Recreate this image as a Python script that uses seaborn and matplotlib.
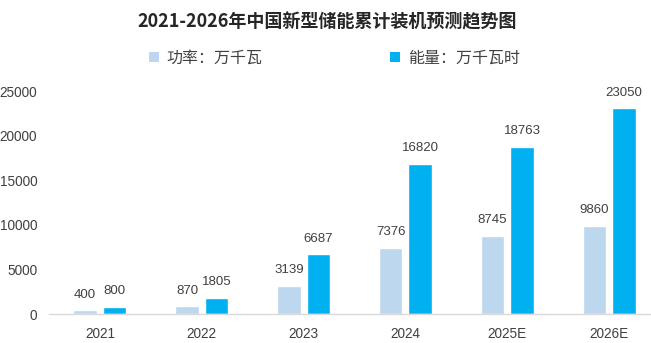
import matplotlib
matplotlib.use("Agg")
import matplotlib.pyplot as plt
from matplotlib.patches import Patch
import seaborn as sns
import pandas as pd

years = ["2021", "2022", "2023", "2024", "2025E", "2026E"]
power = [400, 870, 3139, 7376, 8745, 9860]          # 功率：万千瓦
energy = [800, 1805, 6687, 16820, 18763, 23050]     # 能量：万千瓦时
series_names = ["功率：万千瓦", "能量：万千瓦时"]
yticks = [0, 5000, 10000, 15000, 20000, 25000]
title = "2021-2026年中国新型储能累计装机预测趋势图"

colors = ["#BDD7EE", "#00B0F0"]

df = pd.DataFrame({
    "year": years * 2,
    "value": power + energy,
    "series": [series_names[0]] * len(years) + [series_names[1]] * len(years),
})

sns.set_theme(style="white")
plt.rcParams["font.family"] = ["Liberation Sans", "Noto Sans CJK SC", "DejaVu Sans"]
plt.rcParams["axes.unicode_minus"] = False

fig = plt.figure(figsize=(6.51, 3.43), dpi=100)
ax = fig.add_axes([49 / 651, 29 / 343, 611 / 651, 223 / 343])

sns.barplot(data=df, x="year", y="value", hue="series", order=years,
            hue_order=series_names, palette=colors, saturation=1,
            width=0.58, gap=0.2, legend=False, ax=ax)

ax.set_xlim(-0.5, 5.5)
ax.set_ylim(0, 25000)
ax.set_yticks(yticks)
ax.set_yticklabels([str(v) for v in yticks])
ax.set_xlabel("")
ax.set_ylabel("")
ax.tick_params(axis="both", length=0, labelsize=9.8, colors="#404040")
ax.tick_params(axis="y", pad=8.5)
ax.tick_params(axis="x", pad=9)

for side in ["top", "right", "left"]:
    ax.spines[side].set_visible(False)
ax.spines["bottom"].set_color("#D9D9D9")
ax.spines["bottom"].set_linewidth(1)

for cont in ax.containers:
    ax.bar_label(cont, fmt="%d", padding=7, fontsize=9.5, color="#404040")

fig.text(327 / 651, 1 - 22 / 343, title, ha="center", va="center",
         fontsize=13, fontweight="bold", color="#262626",
         family=["Noto Sans CJK SC", "DejaVu Sans"])

handles = [Patch(facecolor=c, edgecolor="none") for c in colors]
fig.legend(handles, series_names, loc="center",
           bbox_to_anchor=(334.5 / 651, 1 - 58 / 343), ncol=2, frameon=False,
           handlelength=0.6, handleheight=0.6, handletextpad=0.5,
           columnspacing=8.0,
           prop={"family": ["Noto Sans CJK SC", "DejaVu Sans"], "size": 11.5})
for t in fig.legends[0].get_texts():
    t.set_color("#404040")

fig.savefig("out.png", dpi=100)
